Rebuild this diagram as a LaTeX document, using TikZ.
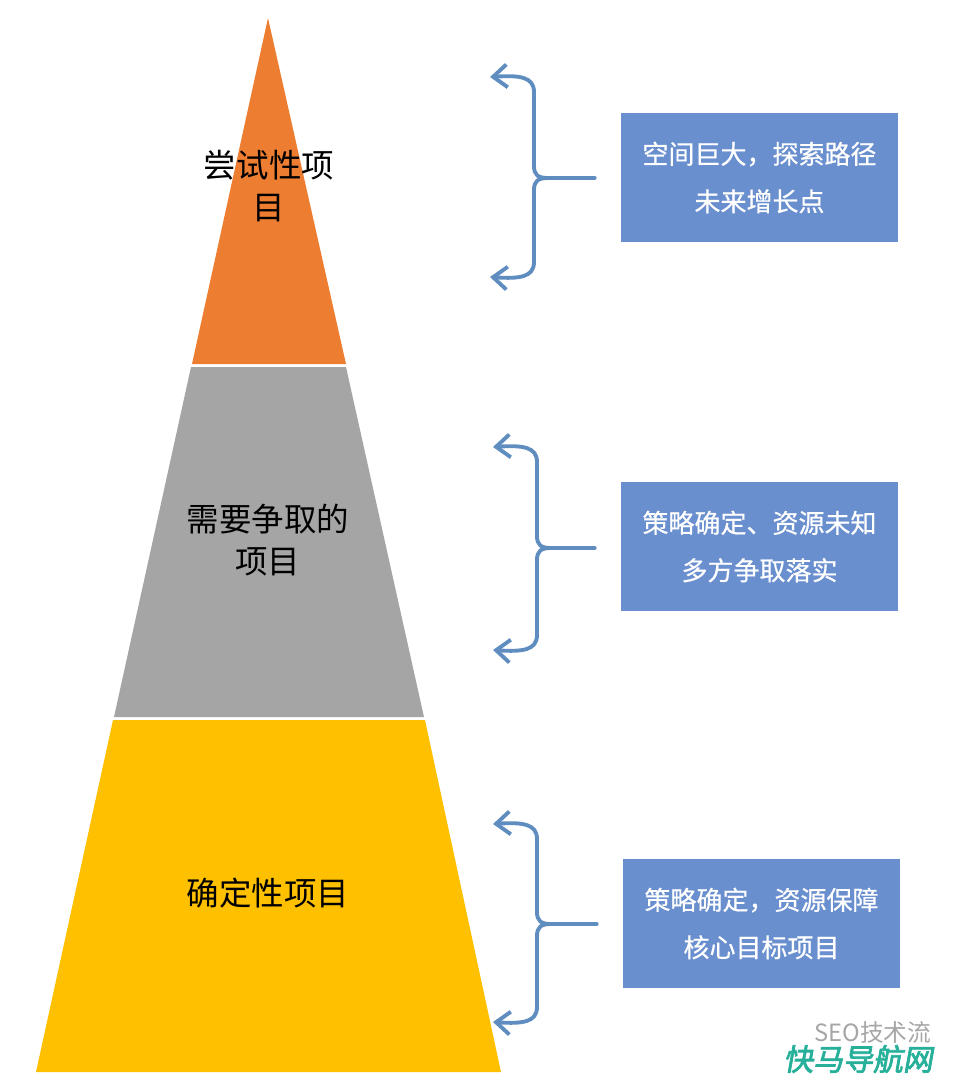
\documentclass[tikz,border=0pt]{standalone}
\usepackage{fontspec}
\newfontfamily\cjk{Noto Sans CJK SC}
\newfontfamily\cjkbox[FakeBold=0.6]{Noto Sans CJK SC}
\newfontfamily\cjkslant[FakeSlant=0.18,FakeBold=2.5]{Noto Sans CJK SC}
\usetikzlibrary{arrows.meta}
\definecolor{tryorange}{RGB}{237,125,49}
\definecolor{fightgray}{RGB}{165,165,165}
\definecolor{suregold}{RGB}{255,192,0}
\definecolor{boxblue}{RGB}{106,143,206}
\definecolor{bracecol}{RGB}{96,141,192}
\definecolor{marktealc}{RGB}{38,176,154}
\tikzset{
  layertext/.style={font=\cjk\fontsize{18.5}{24}\selectfont,align=center,text=black},
  notebox/.style={fill=boxblue,text=white,minimum width=5.54cm,minimum height=2.58cm,
    align=center,font=\cjkbox\fontsize{14.8}{27}\selectfont,inner sep=0pt},
  bracepath/.style={draw=bracecol,line width=2.2pt,line cap=round,
    {Straight Barb[length=8pt,width=13pt,line width=2.2pt]}-{Straight Barb[length=8pt,width=13pt,line width=2.2pt]}},
  braceline/.style={draw=bracecol,line width=2.2pt,line cap=round}
}
\begin{document}
\begin{tikzpicture}[x=0.02cm,y=-0.02cm]
\useasboundingbox (0,0) rectangle (961,1080);
% pyramid layers
\fill[tryorange] (268,18) -- (346,364) -- (192,364) -- cycle;
\fill[fightgray] (191,367) -- (346,367) -- (424,717) -- (114,717) -- cycle;
\fill[suregold] (113,720) -- (425,720) -- (501,1072) -- (36,1072) -- cycle;
\node[layertext] (top) at (269,186) {尝试性项\\目};
\node[layertext] (mid) at (268,540) {需要争取的\\项目};
\node[layertext] (low) at (268,893) {确定性项目};
% notes
\node[notebox] (n1) at (759.5,177.5) {空间巨大，探索路径\\未来增长点};
\node[notebox] (n2) at (759.5,546.5) {策略确定、资源未知\\多方争取落实};
\node[notebox] (n3) at (761.5,923.5) {策略确定，资源保障\\核心目标项目};
% braces: tip y, vertical x, middle y, bottom y, box
\foreach \yt/\xv/\ym/\yb/\bx [count=\i] in {77/534/178/277/n1, 447/537/548/650/n2, 824/537/924/1022/n3}{
  \coordinate (bt\i) at (\xv-44,\yt);
  \coordinate (bb\i) at (\xv-44,\yb);
  \coordinate (bc\i) at (\xv+14,\ym);
  \coordinate (be\i) at ([xshift=-0.52cm]\bx.west);
  \draw[bracepath] (bt\i) .. controls (\xv-14,\yt-2) and (\xv,\yt) .. (\xv,\yt+15)
    -- (\xv,\ym-12) .. controls (\xv,\ym-3) and (\xv+4,\ym) .. (bc\i)
    .. controls (\xv+4,\ym) and (\xv,\ym+3) .. (\xv,\ym+12)
    -- (\xv,\yb-15) .. controls (\xv,\yb) and (\xv-14,\yb+2) .. (bb\i);
  \draw[braceline] (bc\i) -- (be\i |- bc\i);
}
% watermark
\node[font=\cjk\fontsize{13.5}{13.5}\selectfont,text=black!35,anchor=west,inner sep=0pt] (wm1) at (814,1032) {SEO技术流};
\node[font=\cjkslant\fontsize{17}{17}\selectfont,text=marktealc,anchor=west,inner sep=0pt] (wm2) at (783,1059) {快马导航网};
\end{tikzpicture}
\end{document}
